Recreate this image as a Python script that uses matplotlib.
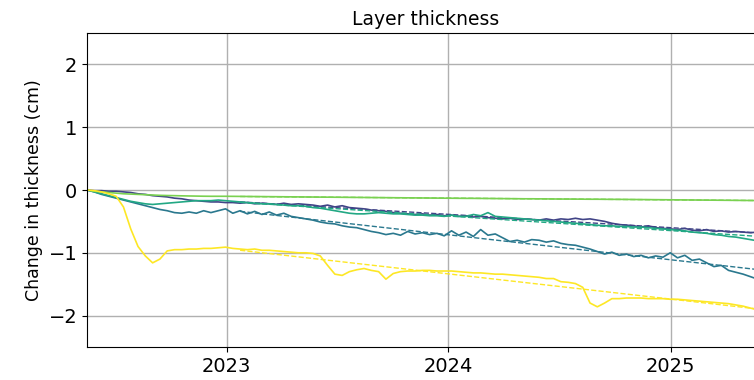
import numpy as np
import pandas as pd
import matplotlib
matplotlib.use("Agg")
import matplotlib.pyplot as plt

# acquisition dates, 12-day revisit
dates = pd.date_range("2022-05-16", periods=94, freq="12D")
fit_start = pd.Timestamp("2023-01-20")

layer_a = [0.00, -0.01, -0.01, -0.02, -0.02, -0.03, -0.04, -0.06, -0.07, -0.09,
           -0.10, -0.11, -0.13, -0.14, -0.16, -0.17, -0.18, -0.19, -0.19, -0.20,
           -0.20, -0.21, -0.20, -0.22, -0.21, -0.22, -0.23, -0.21, -0.23, -0.22,
           -0.23, -0.24, -0.26, -0.24, -0.27, -0.25, -0.28, -0.29, -0.30, -0.32,
           -0.33, -0.34, -0.36, -0.37, -0.38, -0.39, -0.38, -0.40, -0.39, -0.41,
           -0.40, -0.42, -0.41, -0.43, -0.42, -0.44, -0.45, -0.46, -0.45, -0.47,
           -0.46, -0.47, -0.48, -0.46, -0.48, -0.46, -0.47, -0.45, -0.47, -0.46,
           -0.48, -0.50, -0.53, -0.55, -0.56, -0.57, -0.59, -0.57, -0.60, -0.61,
           -0.62, -0.63, -0.61, -0.64, -0.65, -0.63, -0.66, -0.65, -0.67, -0.66,
           -0.67, -0.68, -0.67, -0.69]

layer_b = [0.00, -0.03, -0.07, -0.10, -0.13, -0.16, -0.19, -0.22, -0.25, -0.28,
           -0.31, -0.33, -0.36, -0.37, -0.35, -0.37, -0.33, -0.36, -0.33, -0.30,
           -0.37, -0.33, -0.38, -0.34, -0.39, -0.35, -0.40, -0.37, -0.42, -0.44,
           -0.46, -0.48, -0.51, -0.53, -0.54, -0.57, -0.59, -0.60, -0.63, -0.66,
           -0.68, -0.71, -0.69, -0.72, -0.66, -0.70, -0.68, -0.71, -0.69, -0.73,
           -0.65, -0.72, -0.67, -0.74, -0.63, -0.72, -0.70, -0.76, -0.82, -0.80,
           -0.83, -0.79, -0.80, -0.83, -0.81, -0.85, -0.87, -0.88, -0.91, -0.94,
           -0.98, -1.02, -0.99, -1.04, -1.02, -1.06, -1.04, -1.08, -1.05, -1.07,
           -1.00, -1.08, -1.04, -1.12, -1.10, -1.16, -1.22, -1.20, -1.28, -1.31,
           -1.34, -1.38, -1.42, -1.45]

layer_c = [0.00, -0.03, -0.06, -0.09, -0.12, -0.15, -0.18, -0.20, -0.22, -0.23,
           -0.22, -0.21, -0.20, -0.19, -0.18, -0.17, -0.17, -0.17, -0.16, -0.17,
           -0.18, -0.19, -0.20, -0.21, -0.22, -0.22, -0.23, -0.24, -0.25, -0.25,
           -0.26, -0.28, -0.29, -0.31, -0.33, -0.35, -0.37, -0.38, -0.38, -0.37,
           -0.36, -0.37, -0.38, -0.38, -0.39, -0.40, -0.40, -0.41, -0.41, -0.42,
           -0.40, -0.42, -0.42, -0.39, -0.41, -0.36, -0.42, -0.43, -0.44, -0.45,
           -0.46, -0.47, -0.48, -0.49, -0.50, -0.51, -0.52, -0.53, -0.54, -0.55,
           -0.56, -0.57, -0.57, -0.58, -0.58, -0.59, -0.59, -0.60, -0.61, -0.62,
           -0.63, -0.64, -0.65, -0.67, -0.68, -0.69, -0.71, -0.72, -0.74, -0.75,
           -0.77, -0.79, -0.81, -0.83]

layer_d = [0.00, -0.02, -0.03, -0.04, -0.05, -0.06, -0.065, -0.07, -0.075, -0.08,
           -0.085, -0.088, -0.09, -0.093, -0.095, -0.097, -0.099, -0.10, -0.10, -0.10,
           -0.101, -0.102, -0.103, -0.104, -0.105, -0.106, -0.107, -0.108, -0.109, -0.11,
           -0.111, -0.112, -0.113, -0.114, -0.115, -0.116, -0.117, -0.118, -0.119, -0.12,
           -0.121, -0.122, -0.123, -0.124, -0.125, -0.126, -0.127, -0.128, -0.129, -0.13,
           -0.131, -0.132, -0.133, -0.133, -0.134, -0.135, -0.136, -0.137, -0.138, -0.139,
           -0.14, -0.14, -0.141, -0.142, -0.143, -0.144, -0.144, -0.145, -0.146, -0.147,
           -0.147, -0.148, -0.149, -0.149, -0.15, -0.151, -0.152, -0.153, -0.154, -0.155,
           -0.156, -0.157, -0.158, -0.159, -0.16, -0.161, -0.162, -0.163, -0.164, -0.165,
           -0.166, -0.167, -0.168, -0.17]

layer_e = [0.00, -0.01, -0.03, -0.06, -0.10, -0.27, -0.62, -0.90, -1.05, -1.16,
           -1.10, -0.97, -0.95, -0.95, -0.94, -0.94, -0.93, -0.93, -0.92, -0.91,
           -0.93, -0.94, -0.95, -0.94, -0.96, -0.96, -0.97, -0.98, -0.99, -1.00,
           -1.00, -1.01, -1.05, -1.20, -1.34, -1.36, -1.30, -1.27, -1.25, -1.28,
           -1.30, -1.42, -1.33, -1.30, -1.29, -1.29, -1.28, -1.28, -1.29, -1.29,
           -1.29, -1.30, -1.31, -1.32, -1.32, -1.33, -1.34, -1.34, -1.35, -1.36,
           -1.37, -1.38, -1.39, -1.41, -1.41, -1.46, -1.47, -1.49, -1.55, -1.80,
           -1.86, -1.80, -1.73, -1.73, -1.72, -1.72, -1.72, -1.73, -1.73, -1.73,
           -1.74, -1.74, -1.75, -1.76, -1.77, -1.78, -1.79, -1.80, -1.81, -1.83,
           -1.85, -1.88, -1.91, -1.94]

series = [layer_a, layer_b, layer_c, layer_d, layer_e]
colors = ["#414487", "#2a788e", "#22a884", "#7ad151", "#fde725"]

fig = plt.figure(figsize=(7.54, 3.8), dpi=100)
ax = fig.add_axes([87 / 754, 33 / 380, 678 / 754, 314 / 380])

t_num = matplotlib.dates.date2num(dates)
mask = dates >= fit_start
for vals, col in zip(series, colors):
    vals = np.array(vals)
    ax.plot(dates, vals, color=col, lw=1.2)
    # linear trend over the later period
    p = np.polyfit(t_num[mask], vals[mask], 1)
    ax.plot(dates[mask], np.polyval(p, t_num[mask]), color=col, lw=1.0, ls="--")

ax.set_xlim(dates[0], dates[-1])
ax.set_ylim(-2.5, 2.5)
ax.set_yticks([-2, -1, 0, 1, 2])
ax.xaxis.set_major_locator(matplotlib.dates.YearLocator())
ax.xaxis.set_major_formatter(matplotlib.dates.DateFormatter("%Y"))
ax.grid(True, color="#b0b0b0", lw=1.0)
ax.set_axisbelow(True)
ax.tick_params(labelsize=14)
ax.set_ylabel("Change in thickness (cm)", fontsize=12.5)
ax.set_title("Layer thickness", fontsize=13.5)

fig.savefig("out.png", dpi=100)
